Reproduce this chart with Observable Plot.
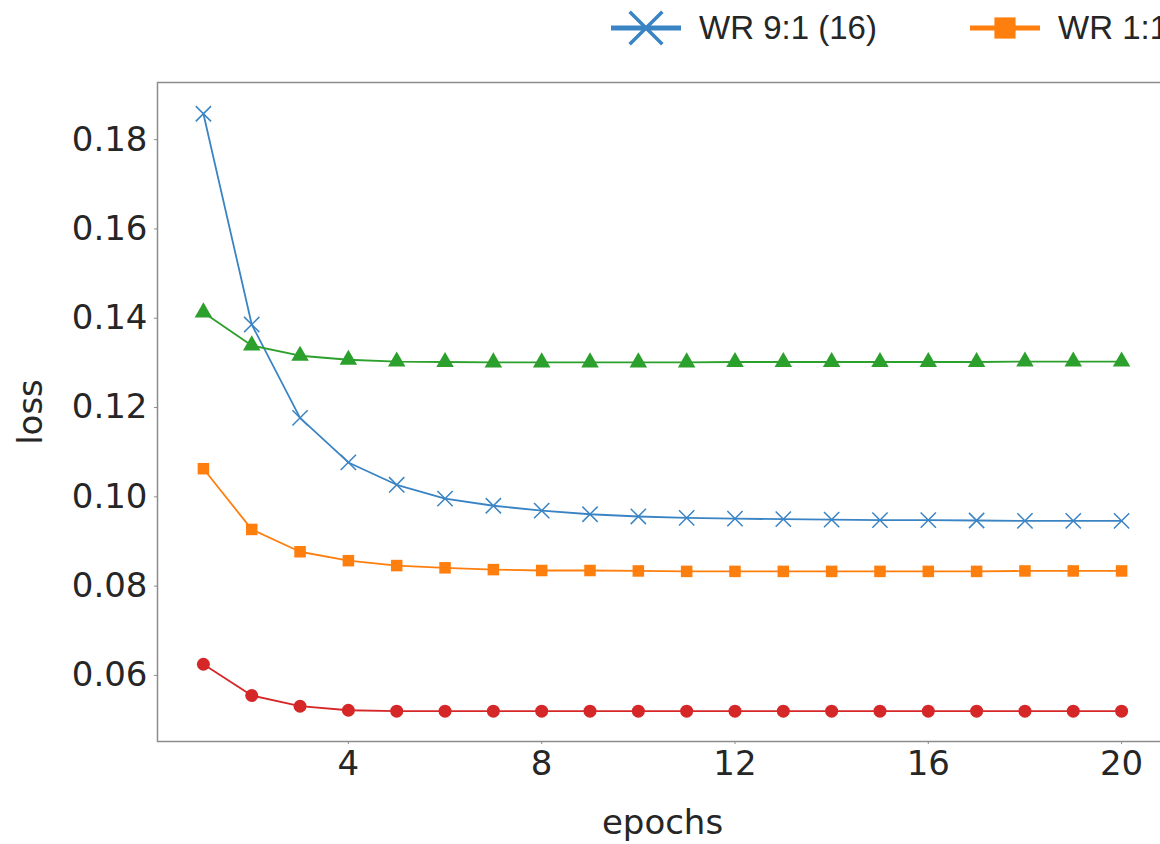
<!DOCTYPE html>
<html>
<head>
<meta charset="utf-8">
<script src="https://cdn.jsdelivr.net/npm/d3@7"></script>
<script src="https://cdn.jsdelivr.net/npm/@observablehq/plot@0.6"></script>
<style>
  html, body { margin: 0; padding: 0; background: #fff; overflow: hidden; width: 1160px; height: 844px; }
  #legend { position: relative; height: 60px; width: 1600px; font-family: "Liberation Sans", Arial, sans-serif; font-size: 33px; color: #262626; }
  .item { position: absolute; top: 8px; display: flex; align-items: center; height: 40px; white-space: nowrap; }
  .item svg { margin-right: 18px; overflow: visible; }
  #chart { width: 1200px; }
  #chart svg { max-width: none !important; display: block; }
</style>
</head>
<body>
<div id="legend"></div>
<div id="chart"></div>
<script>
const epochs = [1,2,3,4,5,6,7,8,9,10,11,12,13,14,15,16,17,18,19,20];
const seriesNames = ["WR 9:1 (16)", "WR 1:1 (16)", "WR 1:9 (16)", "WR 1:1 (64)"];
const seriesColors = ["#3a84c4", "#ff7f0e", "#2ca02c", "#d62728"];
const seriesSymbols = ["times", "square", "triangle", "circle"];
const blueLoss   = [0.1858,0.1386,0.1177,0.1077,0.1027,0.0996,0.0980,0.0969,0.0961,0.0956,0.0953,0.0951,0.0950,0.0949,0.0948,0.0948,0.0947,0.0946,0.0946,0.0946];
const orangeLoss = [0.1063,0.0927,0.0877,0.0857,0.0846,0.0841,0.0837,0.0835,0.0835,0.0834,0.0833,0.0833,0.0833,0.0833,0.0833,0.0833,0.0833,0.0834,0.0834,0.0834];
const greenLoss  = [0.1413,0.1339,0.1316,0.1307,0.1303,0.1302,0.1301,0.1301,0.1301,0.1301,0.1301,0.1302,0.1302,0.1302,0.1302,0.1302,0.1302,0.1303,0.1303,0.1303];
const redLoss    = [0.0625,0.0555,0.0531,0.0522,0.0520,0.0520,0.0520,0.0520,0.0520,0.0520,0.0520,0.0520,0.0520,0.0520,0.0520,0.0520,0.0520,0.0520,0.0520,0.0520];
const yTicks = [0.06, 0.08, 0.10, 0.12, 0.14, 0.16, 0.18];
const xTicks = [4, 8, 12, 16, 20];

const allLoss = [blueLoss, orangeLoss, greenLoss, redLoss];
const rows = [];
allLoss.forEach((vals, s) => vals.forEach((v, i) => rows.push({series: seriesNames[s], epoch: epochs[i], loss: v})));

const colorScale = {domain: seriesNames, range: seriesColors};

const chart = Plot.plot({
  width: 1200,
  height: 784,
  marginTop: 22,
  marginBottom: 103,
  marginLeft: 157,
  marginRight: 33,
  style: {fontFamily: "'DejaVu Sans', sans-serif", color: "#262626", background: "#fff", maxWidth: "none"},
  x: {domain: [0.05, 20.95]},
  y: {domain: [0.0452, 0.1928]},
  color: colorScale,
  symbol: {domain: seriesNames, range: seriesSymbols},
  marks: [
    Plot.frame({stroke: "#8c8c8c", strokeWidth: 1.5}),
    Plot.axisY({ticks: yTicks, tickFormat: d3.format(".2f"), tickSize: 3, tickPadding: 7, fontSize: 34, stroke: "#8c8c8c",
      label: "loss", labelAnchor: "center", labelArrow: false, labelOffset: 140}),
    Plot.axisX({ticks: xTicks, tickSize: 3, tickPadding: 6, fontSize: 34, stroke: "#8c8c8c",
      label: "epochs", labelAnchor: "center", labelArrow: false, labelOffset: 92}),
    Plot.line(rows, {x: "epoch", y: "loss", z: "series", stroke: "series", strokeWidth: 1.8}),
    Plot.dot(rows.filter(d => d.series !== seriesNames[0]), {x: "epoch", y: "loss", symbol: "series", fill: "series", r: 6.5}),
    Plot.dot(rows.filter(d => d.series === seriesNames[0]), {x: "epoch", y: "loss", symbol: "series", stroke: "series", strokeWidth: 1.5, r: 7})
  ]
});
document.getElementById("chart").appendChild(chart);

// legend
const legend = d3.select("#legend");
const starts = [611, 970, 1330, 1690];
seriesNames.forEach((name, i) => {
  const item = legend.append("div").attr("class", "item").style("left", starts[i] + "px");
  const svg = item.append("svg").attr("width", 70).attr("height", 40);
  svg.append("line").attr("x1", 0).attr("x2", 70).attr("y1", 20).attr("y2", 20)
    .attr("stroke", seriesColors[i]).attr("stroke-width", 5);
  const sym = {times: d3.symbolTimes, square: d3.symbolSquare, triangle: d3.symbolTriangle, circle: d3.symbolCircle}[seriesSymbols[i]];
  const path = svg.append("path").attr("transform", "translate(35,20)")
    .attr("d", d3.symbol(sym, seriesSymbols[i] === "times" ? 700 : 450)());
  if (seriesSymbols[i] === "times") path.attr("fill", "none").attr("stroke", seriesColors[i]).attr("stroke-width", 3.5);
  else path.attr("fill", seriesColors[i]);
  item.append("span").text(name);
});
</script>
</body>
</html>
